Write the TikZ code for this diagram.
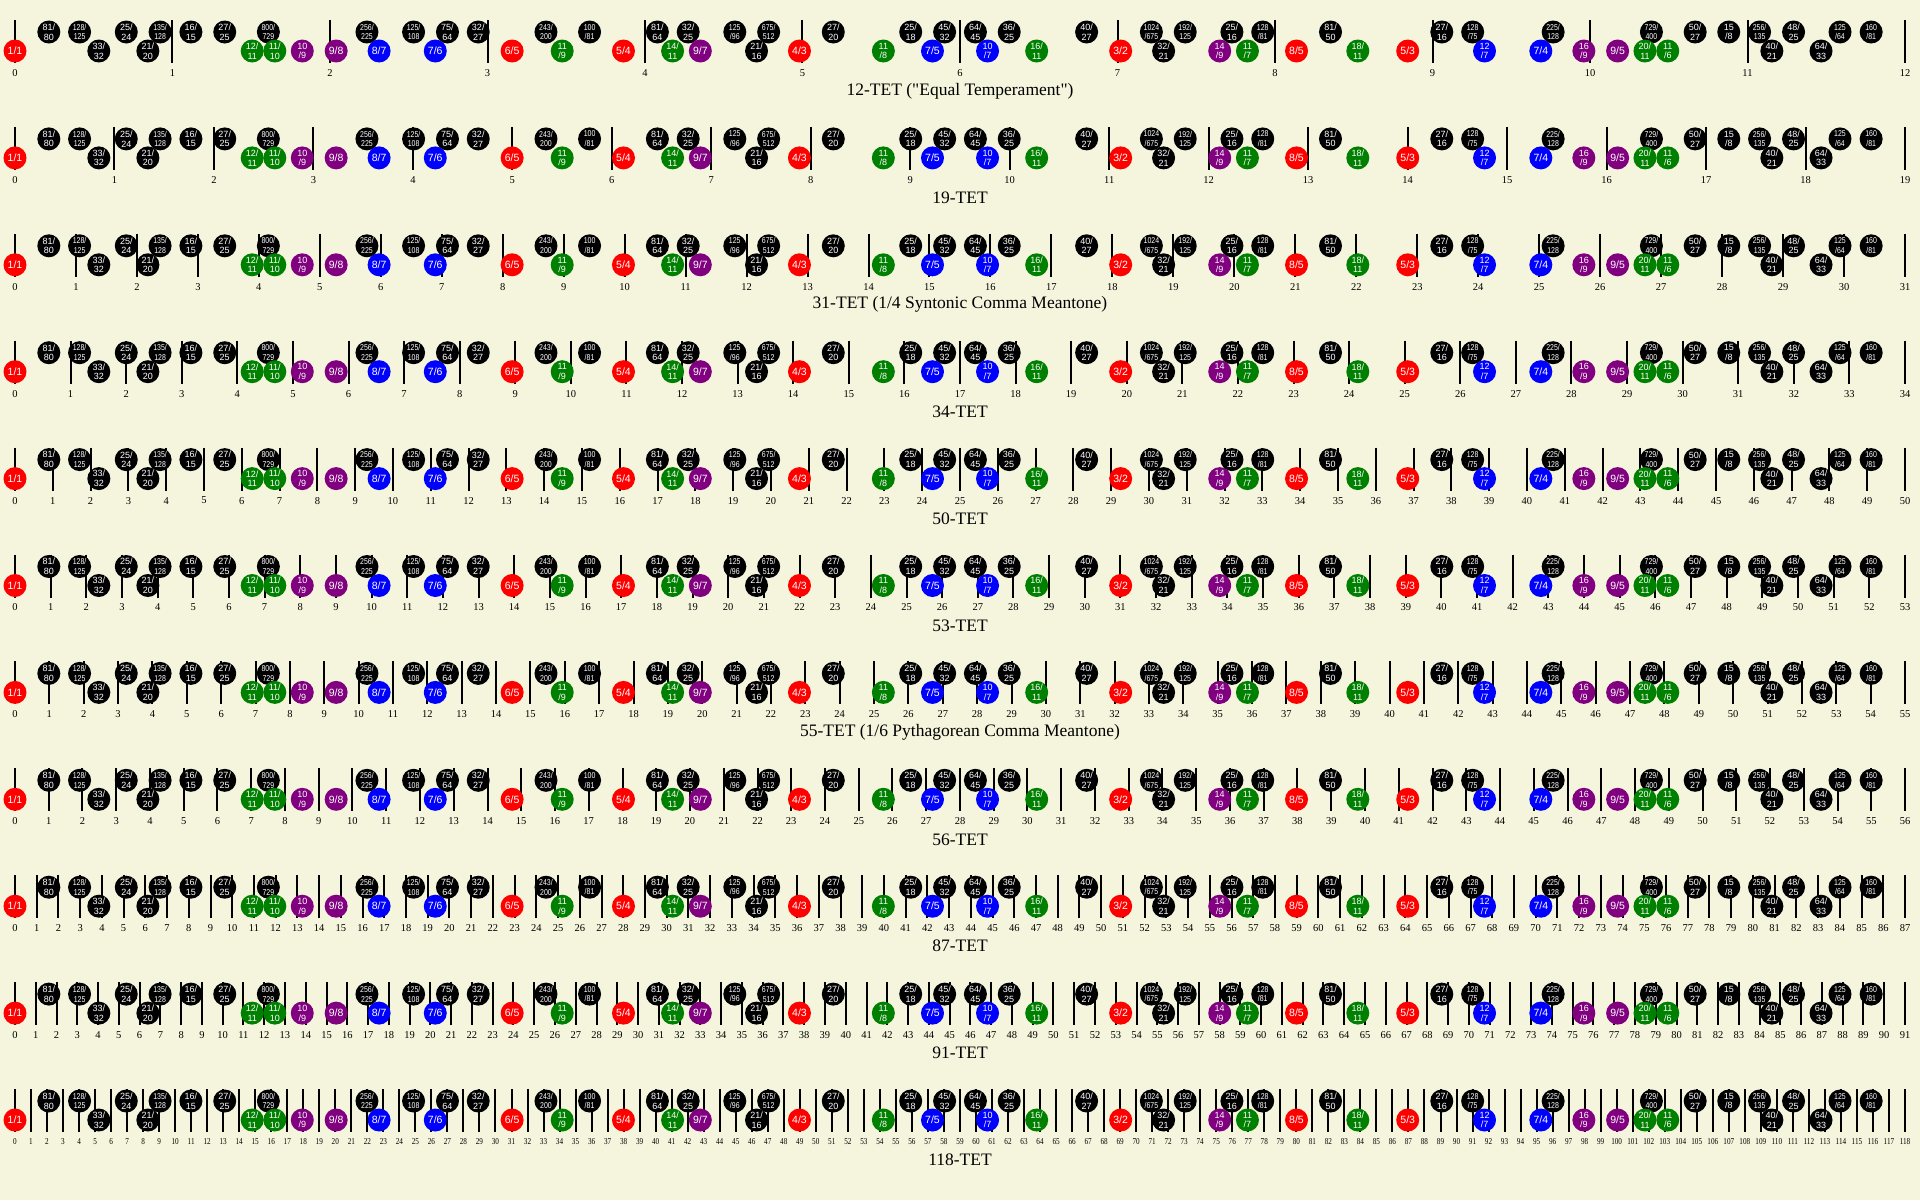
\documentclass[tikz,border=0pt]{standalone}
\usepackage{fontspec}
\usepackage{xcolor}
\usepackage{tikz}
\setmainfont{Liberation Serif}[Ligatures=TeXOff]
\newfontfamily\ratfont{Liberation Sans}
\newfontfamily\ratnarrow[FakeStretch=0.82]{Liberation Sans}
\newfontfamily\stepnarrow[FakeStretch=0.8]{Liberation Serif}
\definecolor{paper}{RGB}{245,245,222}
\definecolor{limred}{RGB}{255,0,0}
\definecolor{limgreen}{RGB}{0,128,0}
\definecolor{limblue}{RGB}{0,0,255}
\definecolor{limpurple}{RGB}{128,0,128}
\newcommand{\stepwide}{\fontsize{10.5}{10.5}\selectfont}
\newcommand{\steptight}{\stepnarrow\fontsize{9}{9}\selectfont}
% line breaks of a ratio label
\newcommand{\ratlabel}[2]{%
  \ifnum#1<10 \ifnum#2<10 #1/#2\else #1/\\#2\fi
  \else\ifnum#2<10 #1\\/#2%
  \else\ifnum#2<100 \ifnum#1<100 #1/\\#2\else #1\\/#2\fi
  \else\ifnum#1<1000 #1/\\#2\else #1\\/#2\fi
  \fi\fi\fi}
\tikzset{
  ratio/.style   ={circle, inner sep=0pt, minimum size=23pt, text=white, align=center},
  tick/.style    ={line width=2pt, draw=black},
  stepnum/.style ={inner sep=0pt},
  rowtitle/.style={font=\fontsize{17.5}{17.5}\selectfont, inner sep=0pt},
}

\begin{document}
\begin{tikzpicture}[x=1pt,y=-1pt]
\fill[paper] (0,0) rectangle (1920,1200);
\foreach \n/\ttl/\nf [count=\r from 0] in {
    12/{12-TET ("Equal Temperament")}/\stepwide,
    19/{19-TET}/\stepwide,
    31/{31-TET (1/4 Syntonic Comma Meantone)}/\stepwide,
    34/{34-TET}/\stepwide,
    50/{50-TET}/\stepwide,
    53/{53-TET}/\stepwide,
    55/{55-TET (1/6 Pythagorean Comma Meantone)}/\stepwide,
    56/{56-TET}/\stepwide,
    87/{87-TET}/\stepwide,
    91/{91-TET}/\stepwide,
    118/{118-TET}/\steptight}{
  \begin{scope}[shift={(0,\r*106.9)}]
    % steps of the octave
    \foreach \k in {0,...,\n}{
      \draw[tick] ({15+\k/\n*1890},20) -- ({15+\k/\n*1890},63);
      \node[stepnum,font=\nf] (s\r-\k) at ({15+\k/\n*1890},73) {\k};
    }
    % just ratios, upper line
    \foreach \p/\q in {81/80, 128/125, 25/24, 135/128, 16/15, 27/25, 800/729,
        256/225, 125/108, 75/64, 32/27, 243/200, 100/81, 81/64, 32/25, 125/96,
        675/512, 27/20, 25/18, 45/32, 64/45, 36/25, 40/27, 1024/675, 192/125,
        25/16, 128/81, 81/50, 27/16, 128/75, 225/128, 729/400, 50/27, 15/8,
        256/135, 48/25, 125/64, 160/81}{
      \def\rf{\ratfont\fontsize{9}{9.7}\selectfont}
      \ifnum\p>99 \def\rf{\ratnarrow\fontsize{8.5}{9.7}\selectfont}\fi
      \ifnum\q>99 \def\rf{\ratnarrow\fontsize{8.5}{9.7}\selectfont}\fi
      \node[ratio,fill=black,font=\rf] (u\r-\p-\q) at ({15+ln(\p/\q)/ln(2)*1890},32) {\ratlabel{\p}{\q}};
    }
    % just ratios, lower line
    \foreach \p/\q/\c in {1/1/limred, 33/32/black, 21/20/black, 12/11/limgreen,
        11/10/limgreen, 10/9/limpurple, 9/8/limpurple, 8/7/limblue, 7/6/limblue,
        6/5/limred, 11/9/limgreen, 5/4/limred, 14/11/limgreen, 9/7/limpurple,
        21/16/black, 4/3/limred, 11/8/limgreen, 7/5/limblue, 10/7/limblue,
        16/11/limgreen, 3/2/limred, 32/21/black, 14/9/limpurple, 11/7/limgreen,
        8/5/limred, 18/11/limgreen, 5/3/limred, 12/7/limblue, 7/4/limblue,
        16/9/limpurple, 9/5/limpurple, 20/11/limgreen, 11/6/limgreen,
        40/21/black, 64/33/black}{
      \def\rf{\ratfont\fontsize{9}{9.7}\selectfont}
      \ifnum\p<10 \ifnum\q<10 \def\rf{\ratfont\fontsize{10.5}{11}\selectfont}\fi\fi
      \node[ratio,fill=\c,font=\rf] (l\r-\p-\q) at ({15+ln(\p/\q)/ln(2)*1890},51) {\ratlabel{\p}{\q}};
    }
    \node[rowtitle] (t\r) at (960,91) {\ttl};
  \end{scope}
}
\end{tikzpicture}
\end{document}
